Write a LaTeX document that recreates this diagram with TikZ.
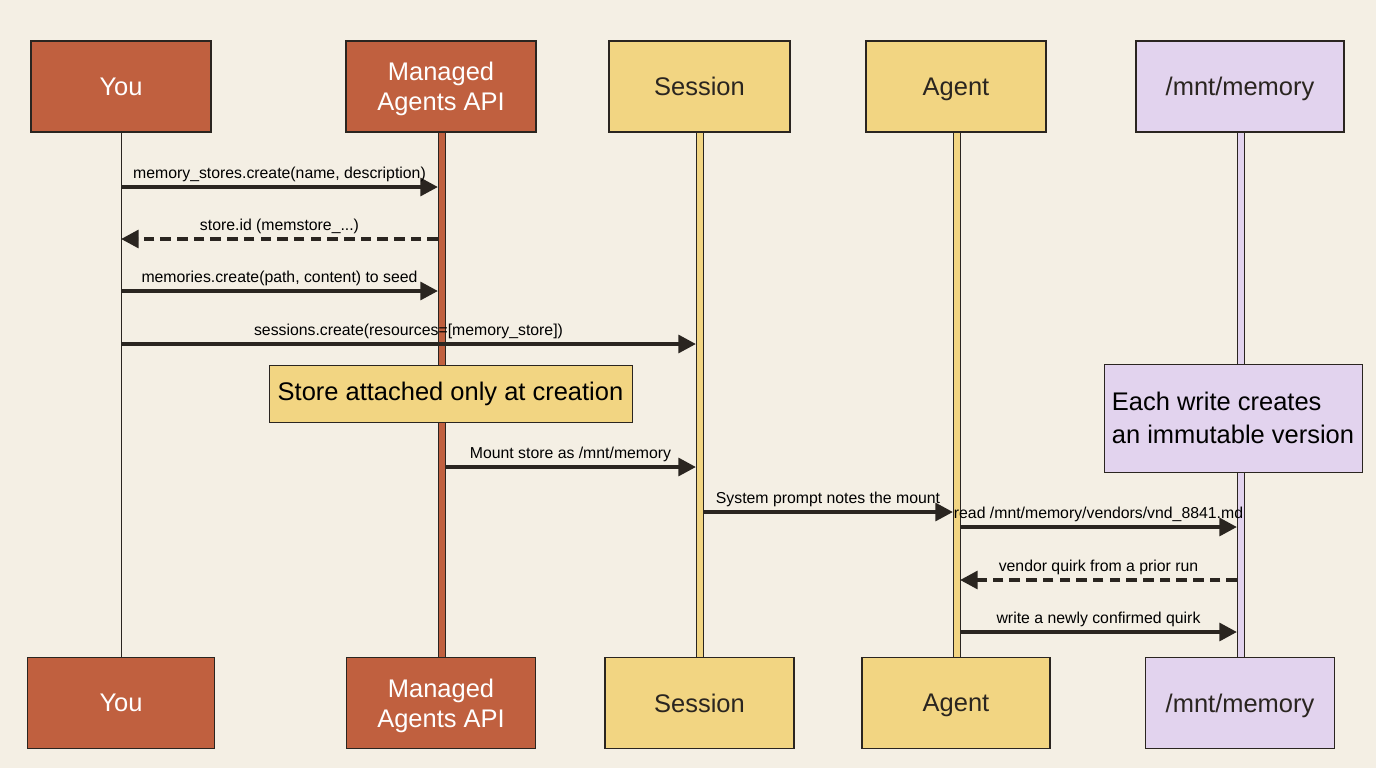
\documentclass[tikz,border=0pt]{standalone}
\usepackage{fontspec}
\setmainfont{Liberation Sans}
\usetikzlibrary{arrows.meta}
\definecolor{bg}{HTML}{F4EFE4}
\definecolor{terra}{HTML}{C0603F}
\definecolor{sand}{HTML}{F2D582}
\definecolor{lav}{HTML}{E2D3EE}
\definecolor{ink}{HTML}{2A2520}
\tikzset{
 box/.style={draw=ink,line width=0.8pt,minimum width=#1*0.02cm,minimum height=91*0.02cm,font=\fontsize{14.5}{17}\selectfont,align=center,inner sep=0,text depth=0pt},
 tbox/.style={box=#1,fill=terra,text=white},
 ybox/.style={box=#1,fill=sand,text=ink},
 lbox/.style={box=#1,fill=lav,text=ink},
 msg/.style={line width=2.3pt,draw=ink,-{Triangle[length=10pt,width=10pt]}},
 ret/.style={msg,dash pattern=on 6pt off 3.5pt},
 lab/.style={font=\fontsize{9}{11}\selectfont,text=black,inner sep=2pt,anchor=south},
 life/.style={draw=ink,line width=0.5pt},
}
\begin{document}
\begin{tikzpicture}[x=0.02cm,y=-0.02cm]
\fill[bg] (0,0) rectangle (1376,768);
\useasboundingbox (0,0) rectangle (1376,768);
% lifelines
\draw[life] (121,132) -- (121,658);
\filldraw[draw=ink,fill=terra,line width=0.5pt] (438,132) rectangle (445,658);
\filldraw[draw=ink,fill=sand,line width=0.5pt] (696,132) rectangle (703,658);
\filldraw[draw=ink,fill=sand,line width=0.5pt] (953,132) rectangle (960,658);
\filldraw[draw=ink,fill=lav,line width=0.5pt] (1237,132) rectangle (1244,658);
% top
\node[tbox=180] (you) at (121,86.5) {You};
\node[tbox=190] (api) at (441,86.5) {Managed\\Agents API};
\node[ybox=181] (ses) at (699.5,86.5) {Session};
\node[ybox=180] (ag) at (956,86.5) {Agent};
\node[lbox=208] (mem) at (1240,86.5) {/mnt/memory};
% bottom
\node[tbox=187] (you2) at (121,703) {You};
\node[tbox=189] (api2) at (441,703) {Managed\\Agents API};
\node[ybox=189] (ses2) at (699.5,703) {Session};
\node[ybox=188] (ag2) at (956,703) {Agent};
\node[lbox=189] (mem2) at (1240,703) {/mnt/memory};
% coordinates
\foreach \n/\x in {Y/121,A/438,Ar/445,S/696,Sr/703,G/953,Gr/960,M/1237}{
 \foreach \y in {187,239,291,344,467,512,527,580,632}{\coordinate (\n\y) at (\x,\y);}}
\draw[msg] (Y187) -- node[lab,above]{memory\_stores.create(name, description)} (A187);
\draw[ret] (A239) -- node[lab,above]{store.id (memstore\_...)} (Y239);
\draw[msg] (Y291) -- node[lab,above]{memories.create(path, content) to seed} (A291);
\draw[msg] (Y344) -- node[lab,above]{sessions.create(resources=[memory\_store])} (S344);
\node[draw=ink,fill=sand,line width=0.5pt,minimum width=363*0.02cm,minimum height=57*0.02cm,font=\fontsize{14.5}{17}\selectfont,inner sep=0] (n1) at (450.5,393.5) {Store attached only at creation};
\draw[msg] (Ar467) -- node[lab,above]{Mount store as /mnt/memory} (S467);
\draw[msg] (Sr512) -- node[lab,above]{System prompt notes the mount} (G512);
\draw[msg] (Gr527) -- node[lab,above]{read /mnt/memory/vendors/vnd\_8841.md} (M527);
\draw[ret] (M580) -- node[lab,above]{vendor quirk from a prior run} (Gr580);
\draw[msg] (Gr632) -- node[lab,above]{write a newly confirmed quirk} (M632);
\node[draw=ink,fill=lav,line width=0.5pt,minimum width=258*0.02cm,minimum height=108*0.02cm,font=\fontsize{14.5}{18.5}\selectfont,align=left,inner sep=0] (n2) at (1233,418) {Each write creates\\an immutable version};
\end{tikzpicture}
\end{document}
